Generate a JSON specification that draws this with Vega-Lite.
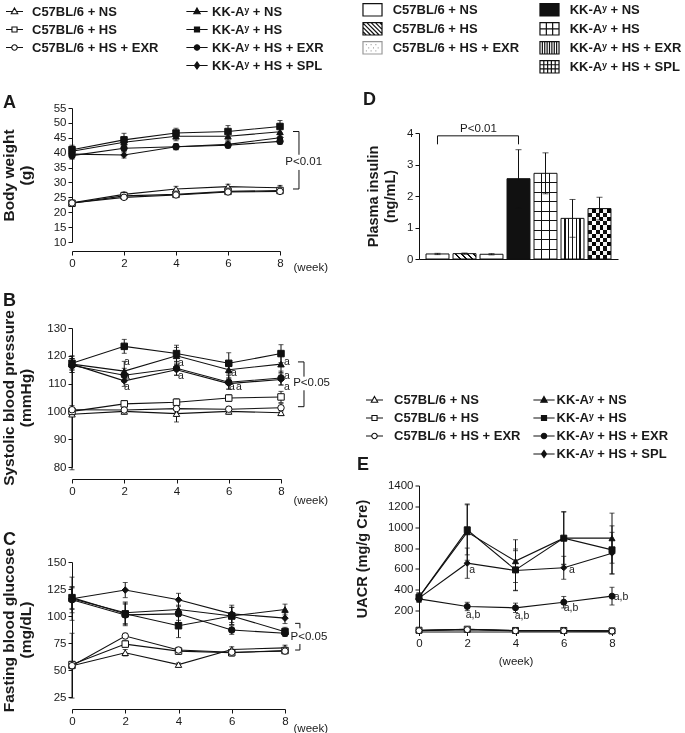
{
"$schema": "https://vega.github.io/schema/vega-lite/v6.json",
"background": "white",
"padding": {"left": 1, "top": 0, "right": 2, "bottom": 2},
"config": {
  "view": {"stroke": null},
  "font": "Liberation Sans",
  "axis": {"domainColor": "#111", "tickColor": "#111", "labelColor": "#1a1a1a", "labelFontSize": 11.5, "labelFont": "Liberation Sans", "titleFont": "Liberation Sans", "titleColor": "#1a1a1a", "titleFontWeight": "bold", "titleFontSize": 15.5, "titleLineHeight": 17, "tickSize": 4, "grid": false, "labelPadding": 2, "labelFlush": false, "labelOverlap": false},
  "legend": {"labelFont": "Liberation Sans", "titleFont": "Liberation Sans"},
  "text": {"font": "Liberation Sans", "color": "#1a1a1a"}
},
"datasets": {
  "A": [
    {"s":"C","k":"C1","g":"C57BL/6 + NS","w":0,"m":23.2,"sd":0.8},{"s":"C","k":"C1","g":"C57BL/6 + NS","w":2,"m":26.0,"sd":0.8},{"s":"C","k":"C1","g":"C57BL/6 + NS","w":4,"m":27.8,"sd":0.9},{"s":"C","k":"C1","g":"C57BL/6 + NS","w":6,"m":28.6,"sd":0.8},{"s":"C","k":"C1","g":"C57BL/6 + NS","w":8,"m":28.2,"sd":0.8},
    {"s":"C","k":"C2","g":"C57BL/6 + HS","w":0,"m":23.0,"sd":0.7},{"s":"C","k":"C2","g":"C57BL/6 + HS","w":2,"m":25.5,"sd":0.7},{"s":"C","k":"C2","g":"C57BL/6 + HS","w":4,"m":26.0,"sd":0.7},{"s":"C","k":"C2","g":"C57BL/6 + HS","w":6,"m":27.0,"sd":0.7},{"s":"C","k":"C2","g":"C57BL/6 + HS","w":8,"m":27.3,"sd":0.7},
    {"s":"C","k":"C3","g":"C57BL/6 + HS + EXR","w":0,"m":23.1,"sd":0.7},{"s":"C","k":"C3","g":"C57BL/6 + HS + EXR","w":2,"m":25.0,"sd":0.7},{"s":"C","k":"C3","g":"C57BL/6 + HS + EXR","w":4,"m":25.8,"sd":0.7},{"s":"C","k":"C3","g":"C57BL/6 + HS + EXR","w":6,"m":26.8,"sd":0.7},{"s":"C","k":"C3","g":"C57BL/6 + HS + EXR","w":8,"m":27.0,"sd":0.7},
    {"s":"K","k":"K1","g":"KK-Aʸ + NS","w":0,"m":40.5,"sd":1.5},{"s":"K","k":"K1","g":"KK-Aʸ + NS","w":2,"m":43.5,"sd":1.8},{"s":"K","k":"K1","g":"KK-Aʸ + NS","w":4,"m":45.5,"sd":1.5},{"s":"K","k":"K1","g":"KK-Aʸ + NS","w":6,"m":45.5,"sd":1.5},{"s":"K","k":"K1","g":"KK-Aʸ + NS","w":8,"m":47.0,"sd":1.5},
    {"s":"K","k":"K2","g":"KK-Aʸ + HS","w":0,"m":41.0,"sd":1.5},{"s":"K","k":"K2","g":"KK-Aʸ + HS","w":2,"m":44.3,"sd":2.2},{"s":"K","k":"K2","g":"KK-Aʸ + HS","w":4,"m":46.6,"sd":1.6},{"s":"K","k":"K2","g":"KK-Aʸ + HS","w":6,"m":47.1,"sd":2.0},{"s":"K","k":"K2","g":"KK-Aʸ + HS","w":8,"m":48.8,"sd":2.0},
    {"s":"K","k":"K3","g":"KK-Aʸ + HS + EXR","w":0,"m":39.0,"sd":1.2},{"s":"K","k":"K3","g":"KK-Aʸ + HS + EXR","w":2,"m":41.5,"sd":1.2},{"s":"K","k":"K3","g":"KK-Aʸ + HS + EXR","w":4,"m":42.0,"sd":1.0},{"s":"K","k":"K3","g":"KK-Aʸ + HS + EXR","w":6,"m":42.5,"sd":1.0},{"s":"K","k":"K3","g":"KK-Aʸ + HS + EXR","w":8,"m":43.8,"sd":1.0},
    {"s":"K","k":"K4","g":"KK-Aʸ + HS + SPL","w":0,"m":39.5,"sd":1.2},{"s":"K","k":"K4","g":"KK-Aʸ + HS + SPL","w":2,"m":39.2,"sd":1.0},{"s":"K","k":"K4","g":"KK-Aʸ + HS + SPL","w":4,"m":42.0,"sd":1.0},{"s":"K","k":"K4","g":"KK-Aʸ + HS + SPL","w":6,"m":42.8,"sd":1.0},{"s":"K","k":"K4","g":"KK-Aʸ + HS + SPL","w":8,"m":45.0,"sd":1.2}
  ],
  "B": [
    {"s":"C","k":"C1","g":"C57BL/6 + NS","w":0,"m":99,"sd":20},{"s":"C","k":"C1","g":"C57BL/6 + NS","w":2,"m":100,"sd":1},{"s":"C","k":"C1","g":"C57BL/6 + NS","w":4,"m":99.2,"sd":3},{"s":"C","k":"C1","g":"C57BL/6 + NS","w":6,"m":100,"sd":1},{"s":"C","k":"C1","g":"C57BL/6 + NS","w":8,"m":99.5,"sd":1},
    {"s":"C","k":"C2","g":"C57BL/6 + HS","w":0,"m":100,"sd":1.5},{"s":"C","k":"C2","g":"C57BL/6 + HS","w":2,"m":102.7,"sd":1.2},{"s":"C","k":"C2","g":"C57BL/6 + HS","w":4,"m":103.3,"sd":1.2},{"s":"C","k":"C2","g":"C57BL/6 + HS","w":6,"m":104.8,"sd":1.2},{"s":"C","k":"C2","g":"C57BL/6 + HS","w":8,"m":105.2,"sd":2},
    {"s":"C","k":"C3","g":"C57BL/6 + HS + EXR","w":0,"m":100.6,"sd":1.5},{"s":"C","k":"C3","g":"C57BL/6 + HS + EXR","w":2,"m":100.5,"sd":1},{"s":"C","k":"C3","g":"C57BL/6 + HS + EXR","w":4,"m":101,"sd":1.5},{"s":"C","k":"C3","g":"C57BL/6 + HS + EXR","w":6,"m":100.8,"sd":1},{"s":"C","k":"C3","g":"C57BL/6 + HS + EXR","w":8,"m":101.3,"sd":1.5},
    {"s":"K","k":"K1","g":"KK-Aʸ + NS","w":0,"m":117,"sd":3},{"s":"K","k":"K1","g":"KK-Aʸ + NS","w":2,"m":114.5,"sd":3.5},{"s":"K","k":"K1","g":"KK-Aʸ + NS","w":4,"m":120,"sd":3},{"s":"K","k":"K1","g":"KK-Aʸ + NS","w":6,"m":115,"sd":3},{"s":"K","k":"K1","g":"KK-Aʸ + NS","w":8,"m":117,"sd":3},
    {"s":"K","k":"K2","g":"KK-Aʸ + HS","w":0,"m":117.3,"sd":2.5},{"s":"K","k":"K2","g":"KK-Aʸ + HS","w":2,"m":123.4,"sd":2.5},{"s":"K","k":"K2","g":"KK-Aʸ + HS","w":4,"m":120.8,"sd":3},{"s":"K","k":"K2","g":"KK-Aʸ + HS","w":6,"m":117.3,"sd":3.8},{"s":"K","k":"K2","g":"KK-Aʸ + HS","w":8,"m":120.8,"sd":3.2},
    {"s":"K","k":"K3","g":"KK-Aʸ + HS + EXR","w":0,"m":116.5,"sd":2.5},{"s":"K","k":"K3","g":"KK-Aʸ + HS + EXR","w":2,"m":113,"sd":2.5},{"s":"K","k":"K3","g":"KK-Aʸ + HS + EXR","w":4,"m":115.5,"sd":2.5},{"s":"K","k":"K3","g":"KK-Aʸ + HS + EXR","w":6,"m":110.5,"sd":2.5},{"s":"K","k":"K3","g":"KK-Aʸ + HS + EXR","w":8,"m":112,"sd":2.5},
    {"s":"K","k":"K4","g":"KK-Aʸ + HS + SPL","w":0,"m":117,"sd":2},{"s":"K","k":"K4","g":"KK-Aʸ + HS + SPL","w":2,"m":111,"sd":2},{"s":"K","k":"K4","g":"KK-Aʸ + HS + SPL","w":4,"m":115,"sd":2},{"s":"K","k":"K4","g":"KK-Aʸ + HS + SPL","w":6,"m":110,"sd":2},{"s":"K","k":"K4","g":"KK-Aʸ + HS + SPL","w":8,"m":111.5,"sd":2}
  ],
  "C": [
    {"s":"C","k":"C1","g":"C57BL/6 + NS","w":0,"m":54,"sd":30},{"s":"C","k":"C1","g":"C57BL/6 + NS","w":2,"m":66,"sd":3},{"s":"C","k":"C1","g":"C57BL/6 + NS","w":4,"m":55,"sd":1.5},{"s":"C","k":"C1","g":"C57BL/6 + NS","w":6,"m":69,"sd":2.5},{"s":"C","k":"C1","g":"C57BL/6 + NS","w":8,"m":70.5,"sd":2.5},
    {"s":"C","k":"C2","g":"C57BL/6 + HS","w":0,"m":55,"sd":3},{"s":"C","k":"C2","g":"C57BL/6 + HS","w":2,"m":74,"sd":3},{"s":"C","k":"C2","g":"C57BL/6 + HS","w":4,"m":67.5,"sd":3},{"s":"C","k":"C2","g":"C57BL/6 + HS","w":6,"m":66,"sd":3},{"s":"C","k":"C2","g":"C57BL/6 + HS","w":8,"m":68,"sd":2},
    {"s":"C","k":"C3","g":"C57BL/6 + HS + EXR","w":0,"m":54,"sd":3},{"s":"C","k":"C3","g":"C57BL/6 + HS + EXR","w":2,"m":81.5,"sd":2.5},{"s":"C","k":"C3","g":"C57BL/6 + HS + EXR","w":4,"m":68.5,"sd":2.5},{"s":"C","k":"C3","g":"C57BL/6 + HS + EXR","w":6,"m":66.5,"sd":2.5},{"s":"C","k":"C3","g":"C57BL/6 + HS + EXR","w":8,"m":67.5,"sd":2},
    {"s":"K","k":"K1","g":"KK-Aʸ + NS","w":0,"m":116,"sd":20},{"s":"K","k":"K1","g":"KK-Aʸ + NS","w":2,"m":103,"sd":10},{"s":"K","k":"K1","g":"KK-Aʸ + NS","w":4,"m":106,"sd":10},{"s":"K","k":"K1","g":"KK-Aʸ + NS","w":6,"m":100,"sd":8},{"s":"K","k":"K1","g":"KK-Aʸ + NS","w":8,"m":106,"sd":5},
    {"s":"K","k":"K2","g":"KK-Aʸ + HS","w":0,"m":117,"sd":10},{"s":"K","k":"K2","g":"KK-Aʸ + HS","w":2,"m":102,"sd":10},{"s":"K","k":"K2","g":"KK-Aʸ + HS","w":4,"m":91,"sd":11},{"s":"K","k":"K2","g":"KK-Aʸ + HS","w":6,"m":100,"sd":8},{"s":"K","k":"K2","g":"KK-Aʸ + HS","w":8,"m":85.5,"sd":4},
    {"s":"K","k":"K3","g":"KK-Aʸ + HS + EXR","w":0,"m":115,"sd":12},{"s":"K","k":"K3","g":"KK-Aʸ + HS + EXR","w":2,"m":101,"sd":10},{"s":"K","k":"K3","g":"KK-Aʸ + HS + EXR","w":4,"m":102,"sd":8},{"s":"K","k":"K3","g":"KK-Aʸ + HS + EXR","w":6,"m":87,"sd":4},{"s":"K","k":"K3","g":"KK-Aʸ + HS + EXR","w":8,"m":84,"sd":3},
    {"s":"K","k":"K4","g":"KK-Aʸ + HS + SPL","w":0,"m":116,"sd":10},{"s":"K","k":"K4","g":"KK-Aʸ + HS + SPL","w":2,"m":124,"sd":7},{"s":"K","k":"K4","g":"KK-Aʸ + HS + SPL","w":4,"m":115,"sd":6},{"s":"K","k":"K4","g":"KK-Aʸ + HS + SPL","w":6,"m":102,"sd":8},{"s":"K","k":"K4","g":"KK-Aʸ + HS + SPL","w":8,"m":98,"sd":5}
  ],
  "E": [
    {"s":"C","k":"C1","g":"C57BL/6 + NS","w":0,"m":10,"sd":5},{"s":"C","k":"C1","g":"C57BL/6 + NS","w":2,"m":20,"sd":5},{"s":"C","k":"C1","g":"C57BL/6 + NS","w":4,"m":8,"sd":4},{"s":"C","k":"C1","g":"C57BL/6 + NS","w":6,"m":8,"sd":4},{"s":"C","k":"C1","g":"C57BL/6 + NS","w":8,"m":5,"sd":3},
    {"s":"C","k":"C2","g":"C57BL/6 + HS","w":0,"m":12,"sd":5},{"s":"C","k":"C2","g":"C57BL/6 + HS","w":2,"m":22,"sd":5},{"s":"C","k":"C2","g":"C57BL/6 + HS","w":4,"m":10,"sd":4},{"s":"C","k":"C2","g":"C57BL/6 + HS","w":6,"m":10,"sd":4},{"s":"C","k":"C2","g":"C57BL/6 + HS","w":8,"m":6,"sd":3},
    {"s":"C","k":"C3","g":"C57BL/6 + HS + EXR","w":0,"m":8,"sd":4},{"s":"C","k":"C3","g":"C57BL/6 + HS + EXR","w":2,"m":18,"sd":4},{"s":"C","k":"C3","g":"C57BL/6 + HS + EXR","w":4,"m":6,"sd":3},{"s":"C","k":"C3","g":"C57BL/6 + HS + EXR","w":6,"m":6,"sd":3},{"s":"C","k":"C3","g":"C57BL/6 + HS + EXR","w":8,"m":4,"sd":3},
    {"s":"K","k":"K1","g":"KK-Aʸ + NS","w":0,"m":330,"sd":40},{"s":"K","k":"K1","g":"KK-Aʸ + NS","w":2,"m":953,"sd":270},{"s":"K","k":"K1","g":"KK-Aʸ + NS","w":4,"m":675,"sd":205},{"s":"K","k":"K1","g":"KK-Aʸ + NS","w":6,"m":895,"sd":250},{"s":"K","k":"K1","g":"KK-Aʸ + NS","w":8,"m":895,"sd":240},
    {"s":"K","k":"K2","g":"KK-Aʸ + HS","w":0,"m":329,"sd":40},{"s":"K","k":"K2","g":"KK-Aʸ + HS","w":2,"m":975,"sd":240},{"s":"K","k":"K2","g":"KK-Aʸ + HS","w":4,"m":591,"sd":200},{"s":"K","k":"K2","g":"KK-Aʸ + HS","w":6,"m":895,"sd":255},{"s":"K","k":"K2","g":"KK-Aʸ + HS","w":8,"m":783,"sd":230},
    {"s":"K","k":"K3","g":"KK-Aʸ + HS + EXR","w":0,"m":313,"sd":30},{"s":"K","k":"K3","g":"KK-Aʸ + HS + EXR","w":2,"m":240,"sd":40},{"s":"K","k":"K3","g":"KK-Aʸ + HS + EXR","w":4,"m":227,"sd":45},{"s":"K","k":"K3","g":"KK-Aʸ + HS + EXR","w":6,"m":281,"sd":55},{"s":"K","k":"K3","g":"KK-Aʸ + HS + EXR","w":8,"m":339,"sd":85},
    {"s":"K","k":"K4","g":"KK-Aʸ + HS + SPL","w":0,"m":320,"sd":40},{"s":"K","k":"K4","g":"KK-Aʸ + HS + SPL","w":2,"m":655,"sd":145},{"s":"K","k":"K4","g":"KK-Aʸ + HS + SPL","w":4,"m":585,"sd":190},{"s":"K","k":"K4","g":"KK-Aʸ + HS + SPL","w":6,"m":611,"sd":110},{"s":"K","k":"K4","g":"KK-Aʸ + HS + SPL","w":8,"m":751,"sd":200}
  ],
  "D": [
    {"k":"C1","g":"C57BL/6 + NS","m":0.16,"sd":0.02},
    {"k":"C2","g":"C57BL/6 + HS","m":0.17,"sd":0.02},
    {"k":"C3","g":"C57BL/6 + HS + EXR","m":0.15,"sd":0.02},
    {"k":"K1","g":"KK-Aʸ + NS","m":2.55,"sd":0.92},
    {"k":"K2","g":"KK-Aʸ + HS","m":2.72,"sd":0.65},
    {"k":"K3","g":"KK-Aʸ + HS + EXR","m":1.29,"sd":0.6},
    {"k":"K4","g":"KK-Aʸ + HS + SPL","m":1.6,"sd":0.36}
  ]
},
"spacing": 24,
"resolve": {"scale": {"shape": "independent", "fill": "independent"}},
"hconcat": [
 {
  "spacing": 19,
  "resolve": {"scale": {"shape": "independent", "fill": "independent"}},
  "vconcat": [
   {
    "width": 208, "height": 134,
    "data": {"name": "A"},
    "encoding": {
      "x": {"field": "w", "type": "quantitative", "scale": {"domain": [0, 8], "nice": false, "zero": false, "padding": 0}, "axis": {"values": [0, 2, 4, 6, 8], "offset": 9, "title": "(week)", "titleFontWeight": "normal", "titleFontSize": 11.5, "titleX": 221, "titleY": 10, "titleAlign": "left", "titleBaseline": "top"}},
      "y": {"field": "m", "type": "quantitative", "scale": {"domain": [10, 55], "nice": false, "zero": false, "padding": 0}, "axis": {"values": [10, 15, 20, 25, 30, 35, 40, 45, 50, 55], "title": ["Body weight", "(g)"], "titleX": -56}}
    },
    "layer": [
      {"mark": {"type": "errorbar", "color": "#111", "thickness": 1, "ticks": true, "size": 5}, "encoding": {"yError": {"field": "sd"}}},
      {"mark": {"type": "line", "color": "#111", "strokeWidth": 1.1}, "encoding": {"detail": {"field": "g", "type": "nominal"}}},
      {"transform": [{"filter": {"field": "s", "equal": "C"}}],
       "mark": {"type": "point", "filled": true, "fill": "white", "stroke": "#111", "strokeWidth": 1, "size": 42, "opacity": 1},
       "encoding": {"shape": {"field": "k", "type": "nominal", "scale": {"domain": ["C1", "C2", "C3"], "range": ["triangle-up", "square", "circle"]}, "legend": null}}},
      {"transform": [{"filter": {"field": "s", "equal": "K"}}],
       "mark": {"type": "point", "filled": true, "fill": "#111", "stroke": "#111", "strokeWidth": 1, "size": 42, "opacity": 1},
       "encoding": {"shape": {"field": "k", "type": "nominal", "scale": {"domain": ["K1", "K2", "K3", "K4"], "range": ["triangle-up", "square", "circle", "diamond"]}, "legend": null}}},
      {"transform": [{"filter": "false"}], "mark": "bar",
       "encoding": {"fill": {"field": "g", "type": "nominal", "scale": {"domain": ["C57BL/6 + NS", "C57BL/6 + HS", "C57BL/6 + HS + EXR"], "range": ["white", "white", "white"]},
         "legend": {"orient": "none", "legendX": -67, "legendY": -106, "title": null, "padding": 0, "symbolSize": 289, "symbolStrokeWidth": 0, "rowPadding": 1, "labelOffset": 8, "labelFontSize": 13, "labelFontWeight": "bold", "labelColor": "#1a1a1a", "labelLimit": 300,
           "encode": {"symbols": {"update": {"shape": {"signal": "datum.value === 'C57BL/6 + NS' ? 'M-1,0H-0.3M0.3,0H1M0,-0.42L0.38,0.26L-0.38,0.26Z' : datum.value === 'C57BL/6 + HS' ? 'M-1,0H-0.3M0.3,0H1M-0.3,-0.3H0.3V0.3H-0.3Z' : 'M-1,0H-0.32M0.32,0H1M-0.32,0A0.32,0.32,0,1,1,0.32,0A0.32,0.32,0,1,1,-0.32,0Z'"}, "fill": {"value": "white"}, "stroke": {"value": "#111"}, "strokeWidth": {"value": 1.1}, "opacity": {"value": 1}}}}}}}},
      {"transform": [{"filter": "false"}], "mark": "bar",
       "encoding": {"fill": {"field": "g", "type": "nominal", "scale": {"domain": ["KK-Aʸ + NS", "KK-Aʸ + HS", "KK-Aʸ + HS + EXR", "KK-Aʸ + HS + SPL"], "range": ["#111", "#111", "#111", "#111"]},
         "legend": {"orient": "none", "legendX": 115.5, "legendY": -106, "title": null, "padding": 0, "symbolSize": 289, "symbolStrokeWidth": 0, "rowPadding": 1, "labelOffset": 5.5, "labelFontSize": 13, "labelFontWeight": "bold", "labelColor": "#1a1a1a", "labelLimit": 300,
           "encode": {"symbols": {"update": {"shape": {"signal": "datum.value === 'KK-Aʸ + NS' ? 'M-1.25,0H1.25M0,-0.42L0.38,0.26L-0.38,0.26Z' : datum.value === 'KK-Aʸ + HS' ? 'M-1.25,0H1.25M-0.3,-0.3H0.3V0.3H-0.3Z' : datum.value === 'KK-Aʸ + HS + EXR' ? 'M-1.25,0H1.25M-0.32,0A0.32,0.32,0,1,1,0.32,0A0.32,0.32,0,1,1,-0.32,0Z' : 'M-1.25,0H1.25M0,-0.42L0.3,0L0,0.42L-0.3,0Z'"}, "fill": {"value": "#111"}, "stroke": {"value": "#111"}, "strokeWidth": {"value": 1.1}, "opacity": {"value": 1}}}}}}}},
      {"data": {"values": [{"w": -2.65, "m": 55, "t": "A"}]}, "mark": {"type": "text", "fontSize": 18, "fontWeight": "bold", "align": "left", "baseline": "alphabetic"}, "encoding": {"text": {"field": "t"}}},
      {"data": {"values": [{"w": 8.91, "m": 36.9, "t": "P<0.01"}]}, "mark": {"type": "text", "fontSize": 11.5, "align": "center", "baseline": "middle"}, "encoding": {"text": {"field": "t"}}},
      {"data": {"values": [{"w": 8.5, "m": 47.1, "w2": 8.73, "m2": 47.1}, {"w": 8.73, "m": 47.1, "w2": 8.73, "m2": 39.3}, {"w": 8.73, "m": 34.2, "w2": 8.73, "m2": 27.8}, {"w": 8.5, "m": 27.8, "w2": 8.73, "m2": 27.8}]},
       "mark": {"type": "rule", "color": "#111", "strokeWidth": 1}, "encoding": {"x2": {"field": "w2"}, "y2": {"field": "m2"}}}
    ],
    "resolve": {"scale": {"shape": "independent", "fill": "independent"}}
   },
   {
    "spacing": 25,
    "resolve": {"scale": {"shape": "independent", "fill": "independent"}},
    "vconcat": [
     {
      "width": 209, "height": 139,
      "data": {"name": "B"},
      "encoding": {
        "x": {"field": "w", "type": "quantitative", "scale": {"domain": [0, 8], "nice": false, "zero": false}, "axis": {"values": [0, 2, 4, 6, 8], "offset": 12, "title": "(week)", "titleFontWeight": "normal", "titleFontSize": 11.5, "titleX": 221, "titleY": 15, "titleAlign": "left", "titleBaseline": "top"}},
        "y": {"field": "m", "type": "quantitative", "scale": {"domain": [80, 130], "nice": false, "zero": false}, "axis": {"values": [80, 90, 100, 110, 120, 130], "title": ["Systolic blood pressure", "(mmHg)"], "titleX": -56}}
      },
      "layer": [
        {"mark": {"type": "errorbar", "color": "#111", "thickness": 1, "ticks": true, "size": 5}, "encoding": {"yError": {"field": "sd"}}},
        {"mark": {"type": "line", "color": "#111", "strokeWidth": 1.1}, "encoding": {"detail": {"field": "g", "type": "nominal"}}},
        {"transform": [{"filter": {"field": "s", "equal": "C"}}],
         "mark": {"type": "point", "filled": true, "fill": "white", "stroke": "#111", "strokeWidth": 1, "size": 42, "opacity": 1},
         "encoding": {"shape": {"field": "k", "type": "nominal", "scale": {"domain": ["C1", "C2", "C3"], "range": ["triangle-up", "square", "circle"]}, "legend": null}}},
        {"transform": [{"filter": {"field": "s", "equal": "K"}}],
         "mark": {"type": "point", "filled": true, "fill": "#111", "stroke": "#111", "strokeWidth": 1, "size": 42, "opacity": 1},
         "encoding": {"shape": {"field": "k", "type": "nominal", "scale": {"domain": ["K1", "K2", "K3", "K4"], "range": ["triangle-up", "square", "circle", "diamond"]}, "legend": null}}},
        {"data": {"values": [{"w": -2.64, "m": 137.9, "t": "B"}]}, "mark": {"type": "text", "fontSize": 18, "fontWeight": "bold", "align": "left", "baseline": "alphabetic"}, "encoding": {"text": {"field": "t"}}},
        {"data": {"values": [{"w": 9.17, "m": 110.1, "t": "P<0.05"}]}, "mark": {"type": "text", "fontSize": 11.5, "align": "center", "baseline": "middle"}, "encoding": {"text": {"field": "t"}}},
        {"data": {"values": [{"w": 2.1, "m": 117.9, "t": "a"}, {"w": 2.1, "m": 112.8, "t": "a"}, {"w": 2.1, "m": 108.7, "t": "a"}, {"w": 4.17, "m": 117.5, "t": "a"}, {"w": 4.17, "m": 112.8, "t": "a"}, {"w": 6.2, "m": 113.7, "t": "a"}, {"w": 6.12, "m": 108.7, "t": "a"}, {"w": 6.39, "m": 108.7, "t": "a"}, {"w": 8.23, "m": 117.9, "t": "a"}, {"w": 8.23, "m": 112.8, "t": "a"}, {"w": 8.23, "m": 108.7, "t": "a"}]},
         "mark": {"type": "text", "fontSize": 10.5, "align": "center", "baseline": "middle"}, "encoding": {"text": {"field": "t"}}},
        {"data": {"values": [{"w": 8.65, "m": 117.8, "w2": 8.88, "m2": 117.8}, {"w": 8.88, "m": 117.8, "w2": 8.88, "m2": 112.5}, {"w": 8.88, "m": 107.6, "w2": 8.88, "m2": 101.7}, {"w": 8.65, "m": 101.7, "w2": 8.88, "m2": 101.7}]},
         "mark": {"type": "rule", "color": "#111", "strokeWidth": 1}, "encoding": {"x2": {"field": "w2"}, "y2": {"field": "m2"}}}
      ],
      "resolve": {"scale": {"shape": "independent"}}
     },
     {
      "width": 213, "height": 135,
      "data": {"name": "C"},
      "encoding": {
        "x": {"field": "w", "type": "quantitative", "scale": {"domain": [0, 8], "nice": false, "zero": false}, "axis": {"values": [0, 2, 4, 6, 8], "offset": 12, "title": "(week)", "titleFontWeight": "normal", "titleFontSize": 11.5, "titleX": 221, "titleY": 13, "titleAlign": "left", "titleBaseline": "top"}},
        "y": {"field": "m", "type": "quantitative", "scale": {"domain": [25, 150], "nice": false, "zero": false}, "axis": {"values": [25, 50, 75, 100, 125, 150], "title": ["Fasting blood glucose", "(mg/dL)"], "titleX": -56}}
      },
      "layer": [
        {"mark": {"type": "errorbar", "color": "#111", "thickness": 1, "ticks": true, "size": 5}, "encoding": {"yError": {"field": "sd"}}},
        {"mark": {"type": "line", "color": "#111", "strokeWidth": 1.1}, "encoding": {"detail": {"field": "g", "type": "nominal"}}},
        {"transform": [{"filter": {"field": "s", "equal": "C"}}],
         "mark": {"type": "point", "filled": true, "fill": "white", "stroke": "#111", "strokeWidth": 1, "size": 42, "opacity": 1},
         "encoding": {"shape": {"field": "k", "type": "nominal", "scale": {"domain": ["C1", "C2", "C3"], "range": ["triangle-up", "square", "circle"]}, "legend": null}}},
        {"transform": [{"filter": {"field": "s", "equal": "K"}}],
         "mark": {"type": "point", "filled": true, "fill": "#111", "stroke": "#111", "strokeWidth": 1, "size": 42, "opacity": 1},
         "encoding": {"shape": {"field": "k", "type": "nominal", "scale": {"domain": ["K1", "K2", "K3", "K4"], "range": ["triangle-up", "square", "circle", "diamond"]}, "legend": null}}},
        {"data": {"values": [{"w": -2.59, "m": 165.7, "t": "C"}]}, "mark": {"type": "text", "fontSize": 18, "fontWeight": "bold", "align": "left", "baseline": "alphabetic"}, "encoding": {"text": {"field": "t"}}},
        {"data": {"values": [{"w": 8.9, "m": 80.3, "t": "P<0.05"}]}, "mark": {"type": "text", "fontSize": 11.5, "align": "center", "baseline": "middle"}, "encoding": {"text": {"field": "t"}}},
        {"data": {"values": [{"w": 8.38, "m": 93.2, "w2": 8.56, "m2": 93.2}, {"w": 8.56, "m": 93.2, "w2": 8.56, "m2": 88.6}, {"w": 8.56, "m": 74.1, "w2": 8.56, "m2": 68.5}, {"w": 8.38, "m": 68.5, "w2": 8.56, "m2": 68.5}]},
         "mark": {"type": "rule", "color": "#111", "strokeWidth": 1}, "encoding": {"x2": {"field": "w2"}, "y2": {"field": "m2"}}}
      ],
      "resolve": {"scale": {"shape": "independent"}}
     }
    ]
   }
  ]
 },
 {
  "spacing": 12,
  "resolve": {"scale": {"shape": "independent", "fill": "independent"}},
  "vconcat": [
   {
    "width": 199, "height": 1,
    "data": {"name": "D"},
    "transform": [{"filter": "false"}],
    "layer": [
      {"mark": "bar",
       "encoding": {"fill": {"field": "g", "type": "nominal", "scale": {"domain": ["C57BL/6 + NS", "C57BL/6 + HS", "C57BL/6 + HS + EXR"], "range": ["white", "white", "white"]},
         "legend": {"orient": "none", "legendX": -56, "legendY": -107.7, "title": "D", "titleOrient": "bottom", "titleAnchor": "start", "titleFontSize": 18, "titleFontWeight": "bold", "titleColor": "#1a1a1a", "titlePadding": 35, "padding": 0, "symbolSize": 289, "symbolStrokeWidth": 0, "rowPadding": 0, "labelOffset": 10.7, "labelFontSize": 13, "labelFontWeight": "bold", "labelColor": "#1a1a1a", "labelLimit": 300,
           "encode": {"symbols": {"update": {
             "shape": {"signal": "datum.value === 'C57BL/6 + HS' ? 'M-1.12,-0.73H1.12V0.73H-1.12ZM-1.12,0.34L-0.73,0.73M-1.12,-0.17L-0.22,0.73M-1.12,-0.67L0.28,0.73M-0.67,-0.73L0.78,0.73M-0.17,-0.73L1.12,0.56M0.34,-0.73L1.12,0.06M0.84,-0.73L1.12,-0.45' : datum.value === 'C57BL/6 + HS + EXR' ? 'M-1.12,-0.73H1.12V0.73H-1.12ZM-0.78,-0.37H-0.67M-0.22,-0.37H-0.11M0.34,-0.37H0.45M-0.5,0H-0.39M0.06,0H0.17M0.61,0H0.72M-0.78,0.37H-0.67M-0.22,0.37H-0.11M0.34,0.37H0.45' : 'M-1.12,-0.73H1.12V0.73H-1.12Z'"},
             "fill": {"value": "white"},
             "stroke": {"signal": "datum.value === 'C57BL/6 + HS + EXR' ? '#999' : '#111'"},
             "strokeWidth": {"value": 1.2}, "opacity": {"value": 1}}}}}}}},
      {"mark": "bar",
       "encoding": {"fill": {"field": "g", "type": "nominal", "scale": {"domain": ["KK-Aʸ + NS", "KK-Aʸ + HS", "KK-Aʸ + HS + EXR", "KK-Aʸ + HS + SPL"], "range": ["#111", "white", "white", "white"]},
         "legend": {"orient": "none", "legendX": 121, "legendY": -107.7, "title": null, "padding": 0, "symbolSize": 289, "symbolStrokeWidth": 0, "rowPadding": 0, "labelOffset": 10.7, "labelFontSize": 13, "labelFontWeight": "bold", "labelColor": "#1a1a1a", "labelLimit": 300,
           "encode": {"symbols": {"update": {
             "shape": {"signal": "datum.value === 'KK-Aʸ + HS' ? 'M-1.12,-0.73H1.12V0.73H-1.12ZM-0.37,-0.73V0.73M0.37,-0.73V0.73M-1.12,0H1.12' : datum.value === 'KK-Aʸ + HS + EXR' ? 'M-1.12,-0.73H1.12V0.73H-1.12ZM-0.84,-0.73V0.73M-0.56,-0.73V0.73M-0.28,-0.73V0.73M0,-0.73V0.73M0.28,-0.73V0.73M0.56,-0.73V0.73M0.84,-0.73V0.73' : datum.value === 'KK-Aʸ + HS + SPL' ? 'M-1.12,-0.73H1.12V0.73H-1.12ZM-0.67,-0.73V-0.243H-0.22V-0.73ZM0.22,-0.73V-0.243H0.67V-0.73ZM-1.12,-0.243V0.243H-0.67V-0.243ZM-0.22,-0.243V0.243H0.22V-0.243ZM0.67,-0.243V0.243H1.12V-0.243ZM-0.67,0.243V0.73H-0.22V0.243ZM0.22,0.243V0.73H0.67V0.243Z' : 'M-1.12,-0.73H1.12V0.73H-1.12Z'"},
             "fill": {"signal": "datum.value === 'KK-Aʸ + NS' || datum.value === 'KK-Aʸ + HS + SPL' ? '#111' : 'white'"},
             "stroke": {"value": "#111"},
             "strokeWidth": {"value": 1.2}, "opacity": {"value": 1}}}}}}}}
    ],
    "resolve": {"scale": {"fill": "independent"}}
   },
   {
    "spacing": 125.5,
    "resolve": {"scale": {"shape": "independent", "fill": "independent"}},
    "vconcat": [
     {
      "width": 199, "height": 126,
      "data": {"name": "D"},
      "encoding": {
        "x": {"field": "g", "type": "nominal", "sort": null, "scale": {"domain": ["C57BL/6 + NS", "C57BL/6 + HS", "C57BL/6 + HS + EXR", "KK-Aʸ + NS", "KK-Aʸ + HS", "KK-Aʸ + HS + EXR", "KK-Aʸ + HS + SPL"], "paddingInner": 0.15, "paddingOuter": 0.26}, "axis": {"labels": false, "ticks": false, "title": null}},
        "y": {"field": "m", "type": "quantitative", "scale": {"domain": [0, 4], "nice": false}, "axis": {"values": [0, 1, 2, 3, 4], "title": ["Plasma insulin", "(ng/mL)"], "titleX": -39, "titleFontSize": 14.5}}
      },
      "layer": [
        {"mark": {"type": "bar", "strokeWidth": 0}, "encoding": {"fill": {"condition": {"test": "datum.k === 'K1'", "value": "#111"}, "value": "white"}}},
        {"mark": {"type": "bar", "strokeWidth": 0}, "encoding": {"fill": {"condition": [
          {"test": "datum.k === 'C2'", "value": {"gradient": "linear", "x1": 0, "y1": 0.24, "x2": 1, "y2": 0, "stops": [{"offset": 0, "color": "rgba(0,0,0,0)"}, {"offset": 0.1, "color": "rgba(0,0,0,0)"}, {"offset": 0.1, "color": "#111"}, {"offset": 0.17, "color": "#111"}, {"offset": 0.17, "color": "rgba(0,0,0,0)"}, {"offset": 0.35, "color": "rgba(0,0,0,0)"}, {"offset": 0.35, "color": "#111"}, {"offset": 0.42, "color": "#111"}, {"offset": 0.42, "color": "rgba(0,0,0,0)"}, {"offset": 0.6, "color": "rgba(0,0,0,0)"}, {"offset": 0.6, "color": "#111"}, {"offset": 0.67, "color": "#111"}, {"offset": 0.67, "color": "rgba(0,0,0,0)"}, {"offset": 0.85, "color": "rgba(0,0,0,0)"}, {"offset": 0.85, "color": "#111"}, {"offset": 0.92, "color": "#111"}, {"offset": 0.92, "color": "rgba(0,0,0,0)"}, {"offset": 1, "color": "rgba(0,0,0,0)"}]}},
          {"test": "datum.k === 'K2'", "value": {"gradient": "linear", "x1": 0, "y1": 0, "x2": 1, "y2": 0, "stops": [{"offset": 0, "color": "rgba(0,0,0,0)"}, {"offset": 0.31, "color": "rgba(0,0,0,0)"}, {"offset": 0.31, "color": "#111"}, {"offset": 0.36, "color": "#111"}, {"offset": 0.36, "color": "rgba(0,0,0,0)"}, {"offset": 0.64, "color": "rgba(0,0,0,0)"}, {"offset": 0.64, "color": "#111"}, {"offset": 0.69, "color": "#111"}, {"offset": 0.69, "color": "rgba(0,0,0,0)"}, {"offset": 1, "color": "rgba(0,0,0,0)"}]}},
          {"test": "datum.k === 'K3'", "value": {"gradient": "linear", "x1": 0, "y1": 0, "x2": 1, "y2": 0, "stops": [{"offset": 0, "color": "rgba(0,0,0,0)"}, {"offset": 0.137, "color": "rgba(0,0,0,0)"}, {"offset": 0.137, "color": "#111"}, {"offset": 0.197, "color": "#111"}, {"offset": 0.197, "color": "rgba(0,0,0,0)"}, {"offset": 0.303, "color": "rgba(0,0,0,0)"}, {"offset": 0.303, "color": "#111"}, {"offset": 0.363, "color": "#111"}, {"offset": 0.363, "color": "rgba(0,0,0,0)"}, {"offset": 0.47, "color": "rgba(0,0,0,0)"}, {"offset": 0.47, "color": "#111"}, {"offset": 0.53, "color": "#111"}, {"offset": 0.53, "color": "rgba(0,0,0,0)"}, {"offset": 0.637, "color": "rgba(0,0,0,0)"}, {"offset": 0.637, "color": "#111"}, {"offset": 0.697, "color": "#111"}, {"offset": 0.697, "color": "rgba(0,0,0,0)"}, {"offset": 0.803, "color": "rgba(0,0,0,0)"}, {"offset": 0.803, "color": "#111"}, {"offset": 0.863, "color": "#111"}, {"offset": 0.863, "color": "rgba(0,0,0,0)"}, {"offset": 1, "color": "rgba(0,0,0,0)"}]}},
          {"test": "datum.k === 'K4'", "value": {"gradient": "linear", "x1": 0, "y1": 0, "x2": 1, "y2": 0, "stops": [{"offset": 0, "color": "#111"}, {"offset": 0.1667, "color": "#111"}, {"offset": 0.1667, "color": "rgba(0,0,0,0)"}, {"offset": 0.3333, "color": "rgba(0,0,0,0)"}, {"offset": 0.3333, "color": "#111"}, {"offset": 0.5, "color": "#111"}, {"offset": 0.5, "color": "rgba(0,0,0,0)"}, {"offset": 0.6667, "color": "rgba(0,0,0,0)"}, {"offset": 0.6667, "color": "#111"}, {"offset": 0.8333, "color": "#111"}, {"offset": 0.8333, "color": "rgba(0,0,0,0)"}, {"offset": 1, "color": "rgba(0,0,0,0)"}]}}
        ], "value": "transparent"}}},
        {"mark": {"type": "bar", "strokeWidth": 0}, "encoding": {"fill": {"condition": {"test": "datum.k === 'K2'", "value": {"gradient": "linear", "x1": 0, "y1": 0, "x2": 0, "y2": 1, "stops": [{"offset": 0, "color": "rgba(0,0,0,0)"}, {"offset": 0.105, "color": "rgba(0,0,0,0)"}, {"offset": 0.105, "color": "#111"}, {"offset": 0.117, "color": "#111"}, {"offset": 0.117, "color": "rgba(0,0,0,0)"}, {"offset": 0.216, "color": "rgba(0,0,0,0)"}, {"offset": 0.216, "color": "#111"}, {"offset": 0.228, "color": "#111"}, {"offset": 0.228, "color": "rgba(0,0,0,0)"}, {"offset": 0.327, "color": "rgba(0,0,0,0)"}, {"offset": 0.327, "color": "#111"}, {"offset": 0.339, "color": "#111"}, {"offset": 0.339, "color": "rgba(0,0,0,0)"}, {"offset": 0.438, "color": "rgba(0,0,0,0)"}, {"offset": 0.438, "color": "#111"}, {"offset": 0.45, "color": "#111"}, {"offset": 0.45, "color": "rgba(0,0,0,0)"}, {"offset": 0.55, "color": "rgba(0,0,0,0)"}, {"offset": 0.55, "color": "#111"}, {"offset": 0.562, "color": "#111"}, {"offset": 0.562, "color": "rgba(0,0,0,0)"}, {"offset": 0.661, "color": "rgba(0,0,0,0)"}, {"offset": 0.661, "color": "#111"}, {"offset": 0.673, "color": "#111"}, {"offset": 0.673, "color": "rgba(0,0,0,0)"}, {"offset": 0.772, "color": "rgba(0,0,0,0)"}, {"offset": 0.772, "color": "#111"}, {"offset": 0.784, "color": "#111"}, {"offset": 0.784, "color": "rgba(0,0,0,0)"}, {"offset": 0.883, "color": "rgba(0,0,0,0)"}, {"offset": 0.883, "color": "#111"}, {"offset": 0.895, "color": "#111"}, {"offset": 0.895, "color": "rgba(0,0,0,0)"}, {"offset": 1, "color": "rgba(0,0,0,0)"}]}}, "value": "transparent"}}},
        {"mark": {"type": "bar", "strokeWidth": 0, "blend": "difference"}, "encoding": {"fill": {"condition": {"test": "datum.k === 'K4'", "value": {"gradient": "linear", "x1": 0, "y1": 0, "x2": 0, "y2": 1, "stops": [{"offset": 0, "color": "#fff"}, {"offset": 0.0833, "color": "#fff"}, {"offset": 0.0833, "color": "rgba(0,0,0,0)"}, {"offset": 0.1667, "color": "rgba(0,0,0,0)"}, {"offset": 0.1667, "color": "#fff"}, {"offset": 0.25, "color": "#fff"}, {"offset": 0.25, "color": "rgba(0,0,0,0)"}, {"offset": 0.3333, "color": "rgba(0,0,0,0)"}, {"offset": 0.3333, "color": "#fff"}, {"offset": 0.4167, "color": "#fff"}, {"offset": 0.4167, "color": "rgba(0,0,0,0)"}, {"offset": 0.5, "color": "rgba(0,0,0,0)"}, {"offset": 0.5, "color": "#fff"}, {"offset": 0.5833, "color": "#fff"}, {"offset": 0.5833, "color": "rgba(0,0,0,0)"}, {"offset": 0.6667, "color": "rgba(0,0,0,0)"}, {"offset": 0.6667, "color": "#fff"}, {"offset": 0.75, "color": "#fff"}, {"offset": 0.75, "color": "rgba(0,0,0,0)"}, {"offset": 0.8333, "color": "rgba(0,0,0,0)"}, {"offset": 0.8333, "color": "#fff"}, {"offset": 0.9167, "color": "#fff"}, {"offset": 0.9167, "color": "rgba(0,0,0,0)"}, {"offset": 1, "color": "rgba(0,0,0,0)"}]}}, "value": "transparent"}}},
        {"mark": {"type": "bar", "fill": "transparent", "stroke": "#111", "strokeWidth": 1}},
        {"mark": {"type": "errorbar", "color": "#111", "thickness": 1, "ticks": true, "size": 6}, "encoding": {"yError": {"field": "sd"}}},
        {"data": {"values": [{"g": "C57BL/6 + NS", "g2": "KK-Aʸ + NS", "m": 3.91, "m2": 3.91}, {"g": "C57BL/6 + NS", "g2": "C57BL/6 + NS", "m": 3.64, "m2": 3.91}, {"g": "KK-Aʸ + NS", "g2": "KK-Aʸ + NS", "m": 3.64, "m2": 3.91}]},
         "mark": {"type": "rule", "color": "#111", "strokeWidth": 1}, "encoding": {"x2": {"field": "g2"}, "y2": {"field": "m2"}}},
        {"data": {"values": [{"g": "C57BL/6 + HS", "m": 3.97, "t": "P<0.01"}]}, "mark": {"type": "text", "dx": 14, "fontSize": 11.5, "align": "center", "baseline": "bottom"}, "encoding": {"text": {"field": "t"}}}
      ]
     },
     {
      "width": 193, "height": 146,
      "data": {"name": "E"},
      "encoding": {
        "x": {"field": "w", "type": "quantitative", "scale": {"domain": [0, 8], "nice": false, "zero": false, "padding": 0}, "axis": {"values": [0, 2, 4, 6, 8], "title": "(week)", "titleFontWeight": "normal", "titleFontSize": 11.5, "titlePadding": 6}},
        "y": {"field": "m", "type": "quantitative", "scale": {"domain": [0, 1400], "nice": false, "padding": 0}, "axis": {"values": [200, 400, 600, 800, 1000, 1200, 1400], "format": "d", "title": "UACR (mg/g Cre)", "titleX": -50, "titleFontSize": 14.5}}
      },
      "layer": [
        {"mark": {"type": "errorbar", "color": "#111", "thickness": 1, "ticks": true, "size": 5}, "encoding": {"yError": {"field": "sd"}}},
        {"mark": {"type": "line", "color": "#111", "strokeWidth": 1.1}, "encoding": {"detail": {"field": "g", "type": "nominal"}}},
        {"transform": [{"filter": {"field": "s", "equal": "C"}}],
         "mark": {"type": "point", "filled": true, "fill": "white", "stroke": "#111", "strokeWidth": 1, "size": 36, "opacity": 1},
         "encoding": {"shape": {"field": "k", "type": "nominal", "scale": {"domain": ["C1", "C2", "C3"], "range": ["triangle-up", "square", "circle"]}, "legend": null}}},
        {"transform": [{"filter": {"field": "s", "equal": "K"}}],
         "mark": {"type": "point", "filled": true, "fill": "#111", "stroke": "#111", "strokeWidth": 1, "size": 36, "opacity": 1},
         "encoding": {"shape": {"field": "k", "type": "nominal", "scale": {"domain": ["K1", "K2", "K3", "K4"], "range": ["triangle-up", "square", "circle", "diamond"]}, "legend": null}}},
        {"transform": [{"filter": "false"}], "mark": "bar",
         "encoding": {"fill": {"field": "g", "type": "nominal", "scale": {"domain": ["C57BL/6 + NS", "C57BL/6 + HS", "C57BL/6 + HS + EXR"], "range": ["white", "white", "white"]},
           "legend": {"orient": "none", "legendX": -54, "legendY": -95, "title": null, "padding": 0, "symbolSize": 289, "symbolStrokeWidth": 0, "rowPadding": 1, "labelOffset": 10, "labelFontSize": 13, "labelFontWeight": "bold", "labelColor": "#1a1a1a", "labelLimit": 300,
             "encode": {"symbols": {"update": {"shape": {"signal": "datum.value === 'C57BL/6 + NS' ? 'M-1,0H-0.3M0.3,0H1M0,-0.42L0.38,0.26L-0.38,0.26Z' : datum.value === 'C57BL/6 + HS' ? 'M-1,0H-0.3M0.3,0H1M-0.3,-0.3H0.3V0.3H-0.3Z' : 'M-1,0H-0.32M0.32,0H1M-0.32,0A0.32,0.32,0,1,1,0.32,0A0.32,0.32,0,1,1,-0.32,0Z'"}, "fill": {"value": "white"}, "stroke": {"value": "#111"}, "strokeWidth": {"value": 1.1}, "opacity": {"value": 1}}}}}}}},
        {"transform": [{"filter": "false"}], "mark": "bar",
         "encoding": {"fill": {"field": "g", "type": "nominal", "scale": {"domain": ["KK-Aʸ + NS", "KK-Aʸ + HS", "KK-Aʸ + HS + EXR", "KK-Aʸ + HS + SPL"], "range": ["#111", "#111", "#111", "#111"]},
           "legend": {"orient": "none", "legendX": 115.5, "legendY": -95, "title": null, "padding": 0, "symbolSize": 289, "symbolStrokeWidth": 0, "rowPadding": 1, "labelOffset": 3, "labelFontSize": 13, "labelFontWeight": "bold", "labelColor": "#1a1a1a", "labelLimit": 300,
             "encode": {"symbols": {"update": {"shape": {"signal": "datum.value === 'KK-Aʸ + NS' ? 'M-1.25,0H1.25M0,-0.42L0.38,0.26L-0.38,0.26Z' : datum.value === 'KK-Aʸ + HS' ? 'M-1.25,0H1.25M-0.3,-0.3H0.3V0.3H-0.3Z' : datum.value === 'KK-Aʸ + HS + EXR' ? 'M-1.25,0H1.25M-0.32,0A0.32,0.32,0,1,1,0.32,0A0.32,0.32,0,1,1,-0.32,0Z' : 'M-1.25,0H1.25M0,-0.42L0.3,0L0,0.42L-0.3,0Z'"}, "fill": {"value": "#111"}, "stroke": {"value": "#111"}, "strokeWidth": {"value": 1.1}, "opacity": {"value": 1}}}}}}}},
        {"data": {"values": [{"w": -2.57, "m": 1544, "t": "E"}]}, "mark": {"type": "text", "fontSize": 18, "fontWeight": "bold", "align": "left", "baseline": "alphabetic"}, "encoding": {"text": {"field": "t"}}},
        {"data": {"values": [{"w": 2.2, "m": 585, "t": "a"}, {"w": 6.34, "m": 585, "t": "a"}, {"w": 2.24, "m": 163, "t": "a,b"}, {"w": 4.27, "m": 147, "t": "a,b"}, {"w": 6.3, "m": 224, "t": "a,b"}, {"w": 8.37, "m": 329, "t": "a,b"}]},
         "mark": {"type": "text", "fontSize": 10.5, "align": "center", "baseline": "middle"}, "encoding": {"text": {"field": "t"}}}
      ],
      "resolve": {"scale": {"shape": "independent", "fill": "independent"}}
     }
    ]
   }
  ]
 }
]
}
